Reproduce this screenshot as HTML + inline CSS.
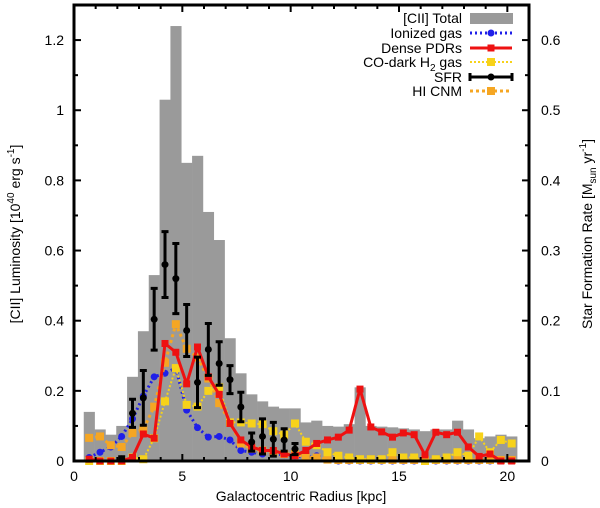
<!DOCTYPE html>
<html><head><meta charset="utf-8"><style>
html,body{margin:0;padding:0;background:#fff;}
svg{display:block;font-family:"Liberation Sans",sans-serif;}
</style></head><body>
<svg id="chart" width="600" height="508" viewBox="0 0 600 508" xmlns="http://www.w3.org/2000/svg">
<g id="bars"></g>
<g id="series"></g>
<g id="axes"></g>
<text x="301" y="501" font-size="14" text-anchor="middle">Galactocentric Radius [kpc]</text>
<text transform="translate(20,234) rotate(-90)" font-size="14" text-anchor="middle">[CII] Luminosity [10<tspan dy="-6" font-size="10">40</tspan><tspan dy="6"> erg s</tspan><tspan dy="-6" font-size="10">-1</tspan><tspan dy="6">]</tspan></text>
<text transform="translate(592,234) rotate(-90)" font-size="14" text-anchor="middle">Star Formation Rate  [M<tspan dy="4" font-size="10">sun</tspan><tspan dy="-4"> yr</tspan><tspan dy="-6" font-size="10">-1</tspan><tspan dy="6">]</tspan></text>
<g id="legend"></g>
</svg>
<script>
// bin centers (kpc): 0.7 + 0.5*i
const radii = [0.7,1.2,1.7,2.2,2.7,3.2,3.7,4.2,4.7,5.2,5.7,6.2,6.7,7.2,7.7,8.2,8.7,9.2,9.7,10.2,10.7,11.2,11.7,12.2,12.7,13.2,13.7,14.2,14.7,15.2,15.7,16.2,16.7,17.2,17.7,18.2,18.7,19.2,19.7,20.2];
const totalCII = [0.14,0.09,0.075,0.10,0.24,0.37,0.53,1.03,1.24,0.85,0.87,0.71,0.63,0.35,0.25,0.19,0.17,0.155,0.15,0.15,0.11,0.115,0.10,0.098,0.105,0.21,0.10,0.098,0.096,0.093,0.09,0.085,0.09,0.09,0.115,0.09,0.065,0.07,0.075,0.07];
const ionized = [0.01,0.025,0.04,0.07,0.12,0.185,0.24,0.25,0.265,0.145,0.095,0.068,0.07,0.06,0.03,0.025,0.02,0.02,0.018,0.015,0.01,0.015,0.005,0,0,0,0,0,0,0,0,0,0,0,0,0,0,0,0,0];
const densePDR = [0.005,0,0,0,0.01,0.077,0.065,0.335,0.31,0.22,0.325,0.24,0.19,0.107,0.06,0.04,0.03,0.03,0.02,0.015,0.03,0.05,0.06,0.068,0.088,0.205,0.097,0.083,0.068,0.08,0.075,0.017,0.082,0.075,0.082,0.04,0.013,0.02,0,0];
const coDark = [0,0,0,0,0.01,0.005,0.065,0.17,0.265,0.16,0.155,0.2,0.21,0.11,0.11,0.107,0.105,0.085,0.075,0.107,0.055,0.045,0.025,0.015,0.01,0.005,0.005,0.005,0.025,0.01,0.01,0,0.005,0.01,0.025,0.015,0.07,0.025,0.06,0.05];
const hiCNM = [0.066,0.07,0.045,0.04,0.08,0.09,0.155,0.28,0.39,0.32,0.295,0.235,0.165,0.11,0.05,0.035,0.03,0.025,0.02,0.02,0.01,0.01,0.004,0.003,0.003,0.003,0.003,0.003,0.003,0.003,0.003,0.003,0.003,0.003,0.003,0.003,0.003,0.003,0.003,0.003];
const sfrRadii = [2.2,2.7,3.2,3.7,4.2,4.7,5.2,5.7,6.2,6.7,7.2,7.7,8.2,8.7,9.2,9.7,10.2];
const sfrValues = [0.003,0.068,0.09,0.202,0.28,0.26,0.186,0.112,0.159,0.139,0.116,0.077,0.027,0.035,0.031,0.03,0.017];
const sfrErrors = [0.003,0.02,0.039,0.044,0.047,0.05,0.037,0.036,0.037,0.031,0.02,0.021,0.013,0.025,0.024,0.016,0.008];
const xTicks = [0,5,10,15,20];
const yTicksLeft = ["0","0.2","0.4","0.6","0.8","1","1.2"];
const yTicksRight = ["0","0.1","0.2","0.3","0.4","0.5","0.6"];

const NS="http://www.w3.org/2000/svg";
const X0=74,X1=529,Y0=461,Y1=5,XMAX=21,YMAX=1.3;
const xs=v=>X0+v*(X1-X0)/XMAX;
const ys=v=>Y0-v*(Y0-Y1)/YMAX;
const ysR=v=>ys(v*2);
function mk(tag,attrs,parent){const e=document.createElementNS(NS,tag);for(const k in attrs)e.setAttribute(k,attrs[k]);parent.appendChild(e);return e;}
const bars=document.getElementById('bars'),ser=document.getElementById('series'),ax=document.getElementById('axes'),lg=document.getElementById('legend');

radii.forEach((r,i)=>{
  const x=xs(r-0.25),w=xs(r+0.25)-x+0.3;
  const b=mk('rect',{x:x,y:ys(totalCII[i]),width:w,height:Y0-ys(totalCII[i]),fill:'#9a9a9a'},bars);
  
  
});

function series(vals,name,color,width,dash,marker,ms){
  const g=mk('g',{},ser);
  
  
  const pts=radii.map((r,i)=>xs(r)+','+ys(vals[i])).join(' ');
  const pl=mk('polyline',{points:pts,fill:'none',stroke:color,'stroke-width':width,'stroke-dasharray':dash,'stroke-linejoin':'round'},g);
  
  
  radii.forEach((r,i)=>{
    let m;
    if(marker==='sq') m=mk('rect',{x:xs(r)-ms/2,y:ys(vals[i])-ms/2,width:ms,height:ms,fill:color},g);
    else m=mk('circle',{cx:xs(r),cy:ys(vals[i]),r:ms/2,fill:color},g);
    
    
  });
}
series(ionized,'ionized-gas','#1f1fe8',3,'2,3','ci',7);
series(hiCNM,'hi-cnm','#f5a623',3,'3,3','sq',8);
series(coDark,'co-dark-h2','#f7d21a',2,'2,2','sq',8);
series(densePDR,'dense-pdrs','#ee1111',3,'','sq',7);

const sg=mk('g',{},ser);


sfrRadii.forEach((r,i)=>{
  const x=xs(r),t=ysR(sfrValues[i]+sfrErrors[i]),b=ysR(Math.max(0,sfrValues[i]-sfrErrors[i]));
  const e=mk('path',{d:`M${x},${t}V${b}M${x-3.5},${t}H${x+3.5}M${x-3.5},${b}H${x+3.5}`,stroke:'#000','stroke-width':3,fill:'none'},sg);
  
  
  const c=mk('circle',{cx:x,cy:ysR(sfrValues[i]),r:3.5,fill:'#000'},sg);
  
  
});

// axes frame
mk('rect',{x:X0,y:Y1,width:X1-X0,height:Y0-Y1,fill:'none',stroke:'#000','stroke-width':3},ax);
for(let k=0;k<=21;k++){
  const x=xs(k),L=(k%5===0)?7:4;
  mk('line',{x1:x,y1:Y0,x2:x,y2:Y0-L,stroke:'#000','stroke-width':2},ax);
  mk('line',{x1:x,y1:Y1,x2:x,y2:Y1+L,stroke:'#000','stroke-width':2},ax);
}
xTicks.forEach(v=>{
  const t=mk('text',{x:xs(v),y:481,'font-size':14,'text-anchor':'middle'},ax);
  t.textContent=v;
  
  
});
for(let k=0;k<=12;k++){
  const y=ys(k*0.1),L=(k%2===0)?7:4;
  mk('line',{x1:X0,y1:y,x2:X0+L,y2:y,stroke:'#000','stroke-width':2},ax);
  const yr=ysR(k*0.05);
  mk('line',{x1:X1,y1:yr,x2:X1-L,y2:yr,stroke:'#000','stroke-width':2},ax);
}
yTicksLeft.forEach((s,i)=>{
  const t=mk('text',{x:64,y:ys(i*0.2)+5,'font-size':14,'text-anchor':'end'},ax);
  t.textContent=s;
  
  
});
yTicksRight.forEach((s,i)=>{
  const t=mk('text',{x:541,y:ysR(i*0.1)+5,'font-size':14,'text-anchor':'start'},ax);
  t.textContent=s;
  
  
});

// legend
const rows=[["[CII] Total",18],["Ionized gas",33],["Dense PDRs",48],["CO-dark H2 gas",62],["SFR",77],["HI CNM",91]];
rows.forEach(([lab,y],i)=>{
  const t=mk('text',{x:462,y:y+5,'font-size':14,'text-anchor':'end'},lg);
  if(lab==="CO-dark H2 gas"){t.innerHTML='CO-dark H<tspan dy="4" font-size="10">2</tspan><tspan dy="-4"> gas</tspan>';}
  else t.textContent=lab;
  
  
});
mk('rect',{x:470,y:13,width:43,height:11,fill:'#9a9a9a'},lg);
mk('line',{x1:470,y1:33,x2:512,y2:33,stroke:'#1f1fe8','stroke-width':3,'stroke-dasharray':'2,3'},lg);
mk('circle',{cx:491,cy:33,r:3.5,fill:'#1f1fe8'},lg);
mk('line',{x1:470,y1:48,x2:512,y2:48,stroke:'#ee1111','stroke-width':3},lg);
mk('rect',{x:487.5,y:44.5,width:7,height:7,fill:'#ee1111'},lg);
mk('line',{x1:470,y1:62,x2:512,y2:62,stroke:'#f7d21a','stroke-width':2,'stroke-dasharray':'2,2'},lg);
mk('rect',{x:487,y:58,width:8,height:8,fill:'#f7d21a'},lg);
mk('path',{d:'M470,77H512M470,73V81M512,73V81',stroke:'#000','stroke-width':3,fill:'none'},lg);
mk('circle',{cx:491,cy:77,r:3.5,fill:'#000'},lg);
mk('line',{x1:470,y1:91,x2:512,y2:91,stroke:'#f5a623','stroke-width':3,'stroke-dasharray':'3,3'},lg);
mk('rect',{x:487,y:87,width:8,height:8,fill:'#f5a623'},lg);
</script>
</body></html>
